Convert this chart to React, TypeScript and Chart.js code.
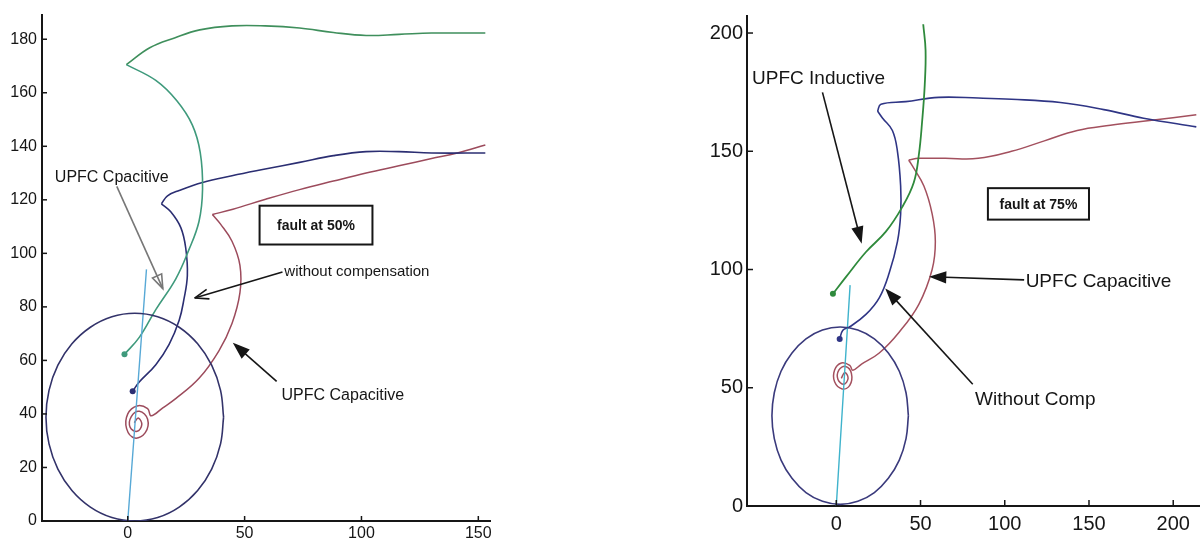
import React, { useEffect, useRef } from "react";
import { Chart, registerables } from "chart.js";
Chart.register(...registerables);

type P = [number, number];

// ---------- Left panel (fault at 50%) ----------
const leftXTicks = [0, 50, 100, 150];
const leftYTicks = [0, 20, 40, 60, 80, 100, 120, 140, 160, 180];
const leftCircle: P[] = [
  [41, 38.8], [39.7, 48.8], [35.9, 58.2], [29.9, 66.2], [22, 72.4], [12.8, 76.3], [3, 77.6],
  [-6.8, 76.3], [-16, 72.4], [-23.9, 66.2], [-29.9, 58.2], [-33.7, 48.8], [-35, 38.8],
  [-33.7, 28.8], [-29.9, 19.4], [-23.9, 11.4], [-16, 5.2], [-6.8, 1.3], [3, 0],
  [12.8, 1.3], [22, 5.2], [29.9, 11.4], [35.9, 19.4], [39.7, 28.8], [41, 38.8],
];
const leftCyan: P[] = [[0, 0], [8, 94]];
const leftGreenLower: P[] = [
  [-1.4, 62.3], [5, 68.7], [12, 79], [20.5, 90.4], [26, 101], [30.5, 112], [32, 124],
  [31, 137.7], [27.6, 148], [21, 157], [12, 164.6], [-0.6, 170.5],
];
const leftGreenUpper: P[] = [
  [-0.6, 170.5], [9.4, 176.8], [20, 180.5], [30.8, 183.5], [44.6, 185], [58.8, 185],
  [73.5, 184.2], [88, 182.5], [102, 181.4], [116, 181.8], [130, 182.3], [153, 182.3],
];
const leftBlueLower: P[] = [
  [2.1, 48.5], [5, 52], [12, 58.4], [17.7, 66], [22, 75], [24, 82.7], [25.5, 91.7],
  [24.8, 102], [22.7, 109.6], [18.4, 115.5], [14.4, 118.5],
];
const leftBlueUpper: P[] = [
  [14.4, 118.5], [17, 121.5], [22, 123.5], [32, 126.5], [44.6, 129], [58.8, 131.5],
  [73.5, 134], [88, 136.5], [102, 138], [116, 138], [130, 137.5], [153, 137.5],
];
const leftRedLower: P[] = [
  [2.8, 36.7], [4.5, 38.5], [6, 36], [4, 33.5], [1, 35], [1.5, 39], [5, 41], [8.5, 38],
  [7.5, 33], [3, 31], [-0.5, 34.5], [0, 40], [4, 43], [8.5, 42], [10, 39.3],
  [15, 42.3], [20.5, 45.7], [30.5, 53.3], [39, 63.6], [44.6, 73.8], [48, 85.3],
  [48, 95.5], [44.6, 104.5], [39.7, 110.9], [36.2, 114.5],
];
const leftRedUpper: P[] = [
  [36.2, 114.5], [45, 116.5], [59, 120.2], [73.5, 123.8], [88, 127], [102, 130],
  [116, 132.7], [130, 135.4], [141, 137.5], [153, 140.5],
];

// ---------- Right panel (fault at 75%) ----------
const rightXTicks = [0, 50, 100, 150, 200];
const rightYTicks = [0, 50, 100, 150, 200];
const rightCircle: P[] = [
  [42.8, 38.2], [41.4, 47.9], [37.4, 57], [30.9, 64.7], [22.6, 70.7], [12.8, 74.4], [2.3, 75.7],
  [-8.2, 74.4], [-18, 70.7], [-26.3, 64.7], [-32.8, 57], [-36.8, 47.9], [-38.2, 38.2],
  [-36.8, 28.5], [-32.8, 19.4], [-26.3, 11.7], [-18, 5.7], [-8.2, 2], [2.3, 0.7],
  [12.8, 2], [22.6, 5.7], [30.9, 11.7], [37.4, 19.4], [41.4, 28.5], [42.8, 38.2],
];
const rightCyan: P[] = [[0, 0], [8.2, 93.4]];
const rightGreen: P[] = [
  [-2, 89.7], [5.9, 97], [17.6, 107.4], [29.4, 116], [39.2, 126.5], [46, 136.8],
  [49, 148.5], [51, 163], [52.5, 178], [53, 192.6], [51.6, 203.7],
];
const rightBlueLower: P[] = [
  [2, 70.6], [3.9, 74.3], [7.8, 75.7], [17.6, 81], [25.5, 88], [31.4, 98.5], [36.3, 111.8],
  [38.2, 123.5], [38.2, 135.3], [36.3, 150], [33.3, 158.8], [27.5, 164], [24.5, 167],
];
const rightBlueUpper: P[] = [
  [24.5, 167], [26.5, 169.9], [41.2, 171], [60.8, 172.8], [84.3, 172.5], [104, 172],
  [133, 170.6], [158.8, 167.6], [182.4, 164], [213.7, 160.3],
];
const rightRedLower: P[] = [
  [3, 54], [5, 56.5], [7, 54], [4.5, 51.5], [1, 53.5], [1.5, 57.5], [5.5, 59], [9, 56],
  [8, 51], [3.5, 49.5], [-1, 52.5], [-1, 57.5], [3, 60.5], [8, 59.5], [9.8, 57.4],
  [15, 60], [25.5, 64.7], [37.3, 73.5], [49, 85.3], [56.9, 100], [58.8, 111.8],
  [56.9, 123.5], [52, 135.3], [45, 144], [43, 146.3],
];
const rightRedUpper: P[] = [
  [43, 146.3], [49, 147], [64.7, 147], [84.3, 147], [104, 150], [123.5, 154.4],
  [143, 158.8], [162.7, 161], [186, 163], [213.7, 165.4],
];

const FONT = "'Liberation Sans', Arial, sans-serif";
const INK = "#161616";

type Arrow = { x1: number; y1: number; x2: number; y2: number; color: string; head: "fill" | "hollow" | "open" };
type Label = { x: number; y: number; text: string; size: number };
type Box = { x1: number; y1: number; x2: number; y2: number; text: string; size: number };
type Ann = { labels: Label[]; arrows: Arrow[]; boxes: Box[]; tickLen: number };

const annotPlugin = {
  id: "annot",
  afterDraw(chart: any, _args: any, opts: Ann) {
    const ctx: CanvasRenderingContext2D = chart.ctx;
    const xs = chart.scales.x;
    const ys = chart.scales.y;
    const area = chart.chartArea;
    ctx.save();
    // inside ticks
    ctx.strokeStyle = INK;
    ctx.lineWidth = 1.5;
    xs.ticks.forEach((t: any) => {
      const px = xs.getPixelForValue(t.value);
      ctx.beginPath();
      ctx.moveTo(px, area.bottom);
      ctx.lineTo(px, area.bottom - opts.tickLen);
      ctx.stroke();
    });
    ys.ticks.forEach((t: any) => {
      const py = ys.getPixelForValue(t.value);
      ctx.beginPath();
      ctx.moveTo(area.left, py);
      ctx.lineTo(area.left + opts.tickLen, py);
      ctx.stroke();
    });
    // boxes
    opts.boxes.forEach((b) => {
      const x1 = xs.getPixelForValue(b.x1);
      const x2 = xs.getPixelForValue(b.x2);
      const y1 = ys.getPixelForValue(b.y1);
      const y2 = ys.getPixelForValue(b.y2);
      ctx.fillStyle = "#fff";
      ctx.fillRect(x1, y2, x2 - x1, y1 - y2);
      ctx.strokeStyle = INK;
      ctx.lineWidth = 2;
      ctx.strokeRect(x1, y2, x2 - x1, y1 - y2);
      ctx.fillStyle = INK;
      ctx.font = `bold ${b.size}px ${FONT}`;
      ctx.textAlign = "center";
      ctx.textBaseline = "middle";
      ctx.fillText(b.text, (x1 + x2) / 2, (y1 + y2) / 2 + 1);
    });
    // arrows
    opts.arrows.forEach((a) => {
      const x1 = xs.getPixelForValue(a.x1);
      const y1 = ys.getPixelForValue(a.y1);
      const x2 = xs.getPixelForValue(a.x2);
      const y2 = ys.getPixelForValue(a.y2);
      const ang = Math.atan2(y2 - y1, x2 - x1);
      const L = 14;
      const W = 5;
      const bx = x2 - L * Math.cos(ang);
      const by = y2 - L * Math.sin(ang);
      const nx = -Math.sin(ang) * W;
      const ny = Math.cos(ang) * W;
      ctx.strokeStyle = a.color;
      ctx.lineWidth = 1.6;
      ctx.beginPath();
      ctx.moveTo(x1, y1);
      ctx.lineTo(a.head === "fill" ? bx : x2, a.head === "fill" ? by : y2);
      ctx.stroke();
      ctx.beginPath();
      ctx.moveTo(x2, y2);
      ctx.lineTo(bx + nx, by + ny);
      if (a.head !== "open") ctx.lineTo(bx - nx, by - ny);
      else {
        ctx.moveTo(x2, y2);
        ctx.lineTo(bx - nx, by - ny);
      }
      if (a.head !== "open") ctx.closePath();
      if (a.head === "fill") {
        ctx.fillStyle = a.color;
        ctx.fill();
      }
      ctx.stroke();
    });
    // labels
    opts.labels.forEach((l) => {
      ctx.fillStyle = INK;
      ctx.font = `${l.size}px ${FONT}`;
      ctx.textAlign = "left";
      ctx.textBaseline = "middle";
      ctx.fillText(l.text, xs.getPixelForValue(l.x), ys.getPixelForValue(l.y));
    });
    ctx.restore();
  },
};

function line(points: P[], color: string, width = 1.6, dot = false) {
  return {
    data: points.map(([x, y]) => ({ x, y })),
    borderColor: color,
    backgroundColor: color,
    borderWidth: width,
    showLine: true,
    tension: 0.4,
    pointRadius: (c: any) => (dot && c.dataIndex === 0 ? 3 : 0),
    pointBorderWidth: 0,
    fill: false,
  };
}

type PanelCfg = {
  datasets: any[];
  xmin: number; xmax: number; ymin: number; ymax: number;
  xTicks: number[]; yTicks: number[];
  yAxisW: number; xAxisH: number; padTop: number; padRight: number;
  tickFont: number; xPad: number; yPad: number; ann: Ann;
};

function Panel({ w, h, left, cfg }: { w: number; h: number; left: number; cfg: PanelCfg }) {
  const ref = useRef<HTMLCanvasElement>(null);
  useEffect(() => {
    const chart = new Chart(ref.current!, {
      type: "scatter",
      data: { datasets: cfg.datasets },
      plugins: [annotPlugin],
      options: {
        animation: false,
        responsive: false,
        maintainAspectRatio: false,
        layout: { padding: { top: cfg.padTop, right: cfg.padRight, left: 0, bottom: 0 } },
        plugins: { legend: { display: false }, tooltip: { enabled: false }, annot: cfg.ann } as any,
        scales: {
          x: {
            type: "linear",
            min: cfg.xmin,
            max: cfg.xmax,
            grid: { display: false, drawTicks: false },
            border: { display: true, color: INK, width: 2 },
            afterBuildTicks: (s: any) => { s.ticks = cfg.xTicks.map((v) => ({ value: v })); },
            ticks: { font: { family: FONT, size: cfg.tickFont }, color: INK, padding: cfg.xPad, maxRotation: 0, autoSkip: false },
            afterFit: (s: any) => { s.height = cfg.xAxisH; },
          },
          y: {
            type: "linear",
            min: cfg.ymin,
            max: cfg.ymax,
            grid: { display: false, drawTicks: false },
            border: { display: true, color: INK, width: 2 },
            afterBuildTicks: (s: any) => { s.ticks = cfg.yTicks.map((v) => ({ value: v })); },
            ticks: { font: { family: FONT, size: cfg.tickFont }, color: INK, padding: cfg.yPad, autoSkip: false },
            afterFit: (s: any) => { s.width = cfg.yAxisW; },
          },
        },
      } as any,
    });
    return () => chart.destroy();
  }, []);
  return (
    <canvas
      ref={ref}
      width={w}
      height={h}
      style={{ position: "absolute", left, top: 0, width: w, height: h }}
    />
  );
}

const leftCfg: PanelCfg = {
  datasets: [
    line(leftCircle, "#33336a", 1.6),
    line(leftCyan, "#58a9d6", 1.4),
    line(leftGreenLower, "#3f9a7c", 1.6, true),
    line(leftGreenUpper, "#3f8f5c", 1.6),
    line(leftBlueLower, "#2b2e72", 1.6, true),
    line(leftBlueUpper, "#2b2e72", 1.6),
    line(leftRedLower, "#9c4b5c", 1.5),
    line(leftRedUpper, "#9c4b5c", 1.5),
  ],
  xmin: -36.7, xmax: 155, ymin: 0, ymax: 189.2,
  xTicks: leftXTicks, yTicks: leftYTicks,
  yAxisW: 42, xAxisH: 28, padTop: 7, padRight: 10, tickFont: 16, xPad: 3, yPad: 5,
  ann: {
    tickLen: 5,
    labels: [
      { x: -31.2, y: 128.2, text: "UPFC Cpacitive", size: 16 },
      { x: 67, y: 93, text: "without compensation", size: 15 },
      { x: 65.8, y: 46.8, text: "UPFC Capacitive", size: 16 },
    ],
    arrows: [
      { x1: -4.7, y1: 125, x2: 15, y2: 86.8, color: "#777", head: "hollow" },
      { x1: 66.2, y1: 93, x2: 28.6, y2: 83.3, color: INK, head: "open" },
      { x1: 63.7, y1: 52.2, x2: 45.7, y2: 66, color: INK, head: "fill" },
    ],
    boxes: [{ x1: 56.4, y1: 103.3, x2: 104.7, y2: 117.8, text: "fault at 50%", size: 14 }],
  },
};

const rightCfg: PanelCfg = {
  datasets: [
    line(rightCircle, "#3a3a7c", 1.6),
    line(rightCyan, "#3fb3cc", 1.4),
    line(rightGreen, "#2f8a3c", 1.8, true),
    line(rightBlueLower, "#2f3585", 1.6, true),
    line(rightBlueUpper, "#2f3585", 1.6),
    line(rightRedLower, "#a3505e", 1.5),
    line(rightRedUpper, "#a3505e", 1.5),
  ],
  xmin: -53, xmax: 215.3, ymin: 0, ymax: 207.2,
  xTicks: rightXTicks, yTicks: rightYTicks,
  yAxisW: 67, xAxisH: 43, padTop: 16, padRight: 0, tickFont: 20, xPad: 6, yPad: 4,
  ann: {
    tickLen: 6,
    labels: [
      { x: -50, y: 180.6, text: "UPFC Inductive", size: 19 },
      { x: 112.4, y: 94.7, text: "UPFC Capacitive", size: 19 },
      { x: 82.4, y: 45, text: "Without Comp", size: 19 },
    ],
    arrows: [
      { x1: -8.2, y1: 174.9, x2: 14.7, y2: 111.9, color: INK, head: "fill" },
      { x1: 111.5, y1: 95.6, x2: 56.5, y2: 96.9, color: INK, head: "fill" },
      { x1: 81, y1: 51.5, x2: 30, y2: 91.2, color: INK, head: "fill" },
    ],
    boxes: [{ x1: 90, y1: 121.1, x2: 150, y2: 134.4, text: "fault at 75%", size: 14 }],
  },
};

export default function App() {
  return (
    <div style={{ position: "absolute", left: 0, top: 0, width: 1203, height: 549, background: "#fff", overflow: "hidden" }}>
      <Panel w={500} h={549} left={0} cfg={leftCfg} />
      <Panel w={523} h={549} left={680} cfg={rightCfg} />
    </div>
  );
}
